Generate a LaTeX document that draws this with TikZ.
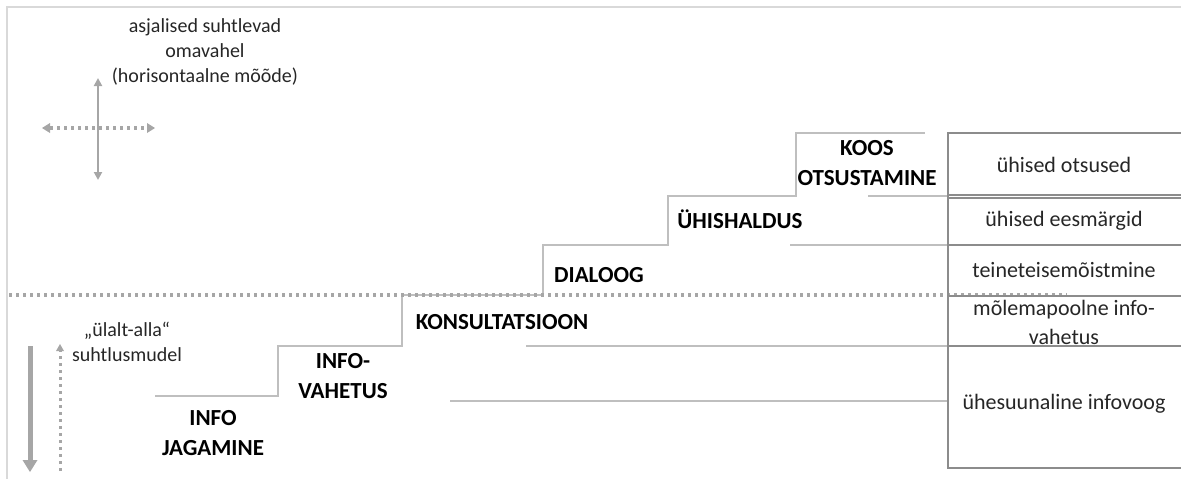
\documentclass[tikz,border=0pt]{standalone}
\usepackage{fontspec}
\setmainfont{Carlito}
\usetikzlibrary{arrows.meta}

\definecolor{framegray}{HTML}{D9D9D9}
\definecolor{stepgray}{HTML}{BFBFBF}
\definecolor{dotgray}{HTML}{A6A6A6}
\definecolor{tablegray}{HTML}{8C8C8C}
\definecolor{textdark}{HTML}{262626}

\begin{document}
\begin{tikzpicture}[x=1pt,y=-1pt,
                    stepline/.style={draw=stepgray,line width=1.4pt},
                    tableline/.style={draw=tablegray,line width=1.1pt},
                    dotline/.style={draw=dotgray,line width=3.2pt,dash pattern=on 3.4pt off 3.6pt},
                    level node/.style={font=\fontsize{23}{30}\selectfont\bfseries,text=black,align=center,inner sep=0pt},
                    cell/.style={font=\fontsize{22}{29}\selectfont,text=textdark,align=center,inner sep=0pt},
                    note/.style={font=\fontsize{20}{25}\selectfont,text=textdark,align=center,inner sep=0pt}]

  \useasboundingbox (0,0) rectangle (1181,479);

  % frame
  \draw[framegray,line width=2.4pt] (7,479) -- (7,7) -- (1181,7);

  % staircase
  \draw[stepline] (155,396) -- (278,396) -- (278,346) -- (402,346) -- (402,295)
    -- (543,295) -- (543,245) -- (668,245) -- (668,196) -- (796,196) -- (796,133) -- (925,133);
  \draw[stepline] (450,401) -- (948,401);
  \draw[stepline] (526,346) -- (948,346);
  \draw[stepline] (790,245) -- (948,245);
  \draw[stepline] (868,196) -- (948,196);

  % dotted border between the two models
  \draw[dotline] (9,295) -- (1067,295);

  % table
  \draw[tableline] (1181,133) -- (948,133) -- (948,468) -- (1181,468);
  \draw[tableline] (948,195) -- (1181,195);
  \draw[tableline] (948,198) -- (1181,198);
  \draw[tableline,line width=1.8pt] (948,245) -- (1181,245);
  \draw[tableline] (948,296) -- (1181,296);
  \draw[tableline] (948,346) -- (1181,346);

  \node[cell] (otsused) at (1064,165) {ühised otsused};
  \node[cell] (eesmargid) at (1064,221) {ühised eesmärgid};
  \node[cell] (moistmine) at (1064,270) {teineteisemõistmine};
  \node[cell] (infovahetus) at (1064,322) {mõlemapoolne info-\\vahetus};
  \node[cell] (infovoog) at (1064,404) {ühesuunaline infovoog};

  % levels
  \node[level node] (jagamine) at (213,433) {INFO\\JAGAMINE};
  \node[level node] (vahetus) at (343,376) {INFO-\\VAHETUS};
  \node[level node] (konsult) at (502,322) {KONSULTATSIOON};
  \node[level node] (dialoog) at (599,275) {DIALOOG};
  \node[level node] (yhishaldus) at (740,219) {ÜHISHALDUS};
  \node[level node] (koos) at (867,163) {KOOS\\OTSUSTAMINE};

  % horizontal model
  \node[note] (horis) at (205,52) {asjalised suhtlevad\\omavahel\\(horisontaalne mõõde)};
  \coordinate (vtop) at (98,78);
  \coordinate (vbot) at (98,180);
  \coordinate (hleft) at (42,128);
  \coordinate (hright) at (155,128);
  \draw[dotgray,line width=2.4pt,{Triangle[length=8pt,width=8pt]}-{Triangle[length=8pt,width=8pt]}] (vtop) -- (vbot);
  \draw[dotline,{Triangle[length=8pt,width=10pt,line width=0pt,sep=0pt]}-{Triangle[length=8pt,width=10pt,line width=0pt]}] (hleft) -- (hright);

  % top-down model
  \node[note] (ylalt) at (127,342) {„ülalt-alla“\\suhtlusmudel};
  \coordinate (dtop) at (30,346);
  \coordinate (dbot) at (30,472);
  \coordinate (utop) at (60,344);
  \coordinate (ubot) at (60,471);
  \draw[dotgray,line width=5pt,-{Triangle[length=12pt,width=15pt,line width=0pt]}] (dtop) -- (dbot);
  \draw[dotline,line width=3pt,-{Triangle[length=7pt,width=8pt,line width=0pt]}] (ubot) -- (utop);

\end{tikzpicture}
\end{document}
